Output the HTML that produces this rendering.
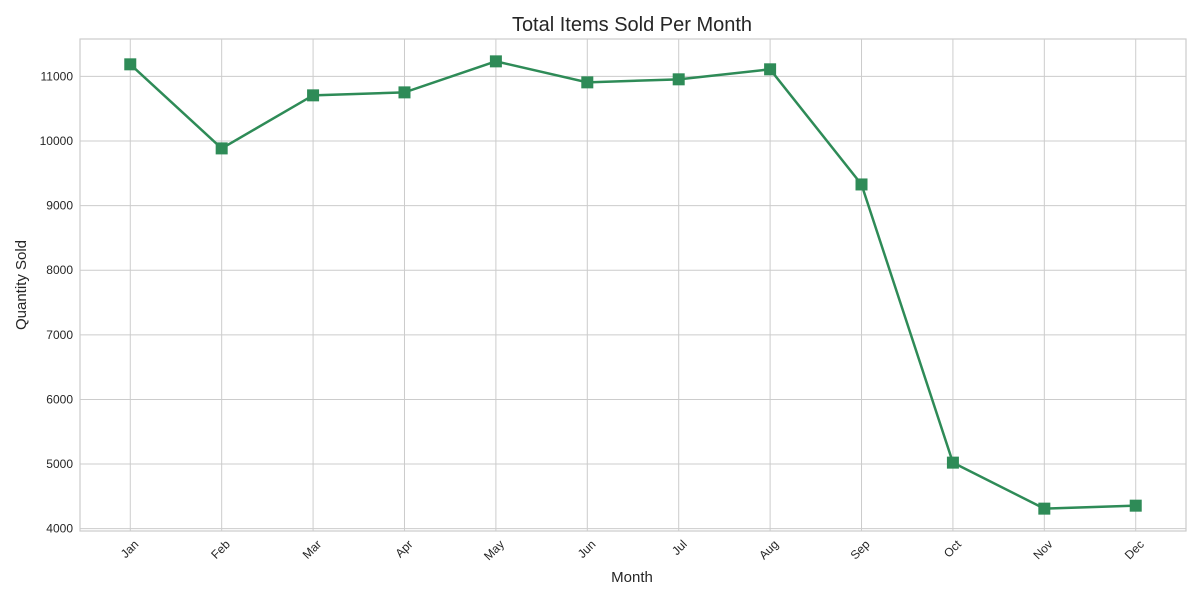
<!DOCTYPE html>
<html><head><meta charset="utf-8"><style>
body{margin:0;background:#fff;}
svg text{font-family:"Liberation Sans",Arial,sans-serif;fill:#262626;}
</style></head><body>
<svg id="chart" width="1200" height="600">
<text x="632" y="31" font-size="20" text-anchor="middle">Total Items Sold Per Month</text>
<text x="632" y="582" font-size="15" text-anchor="middle">Month</text>
<text x="26" y="285" font-size="15" text-anchor="middle" transform="rotate(-90 26 285)">Quantity Sold</text>
<g id="grid"></g><g id="plot"></g>
</svg>
<script>
const months=["Jan","Feb","Mar","Apr","May","Jun","Jul","Aug","Sep","Oct","Nov","Dec"];
const quantities=[11186,9885,10706,10752,11232,10907,10954,11109,9327,5022,4310,4356];
const yTicks=[4000,5000,6000,7000,8000,9000,10000,11000];
const L=80,R=1186,T=39,B=531;
const yMin=3964,yMax=11578,xMin=-0.55,xMax=11.55;
const xs=i=>L+(i-xMin)/(xMax-xMin)*(R-L);
const ys=v=>B-(v-yMin)/(yMax-yMin)*(B-T);
const NS="http://www.w3.org/2000/svg";
const g=document.getElementById('grid'),p=document.getElementById('plot');
function mk(t,a,par){const e=document.createElementNS(NS,t);for(const k in a)e.setAttribute(k,a[k]);par.appendChild(e);return e;}
yTicks.forEach(v=>{
 const y=ys(v);
 const l=mk('line',{x1:L,x2:R,y1:y,y2:y,stroke:'#cccccc','stroke-width':1},g);
 
 
 const t=mk('text',{x:L-7,y:y+4,'font-size':12,'text-anchor':'end'},g);t.textContent=v;
 
 
});
months.forEach((m,i)=>{
 const x=xs(i);
 const l=mk('line',{x1:x,x2:x,y1:T,y2:B,stroke:'#cccccc','stroke-width':1},g);
 
 
 const tx=x+9,ty=B+14;
 const t=mk('text',{x:tx,y:ty,'font-size':12,'text-anchor':'end',transform:`rotate(-45 ${tx} ${ty})`},g);t.textContent=m;
 
 
});
const fr=mk('rect',{x:L,y:T,width:R-L,height:B-T,fill:'none',stroke:'#cccccc','stroke-width':1.2},g);


const pl=mk('polyline',{points:quantities.map((v,i)=>xs(i)+','+ys(v)).join(' '),fill:'none',stroke:'#2e8b57','stroke-width':2.5},p);


quantities.forEach((v,i)=>{
 const r=mk('rect',{x:xs(i)-6,y:ys(v)-6,width:12,height:12,fill:'#2e8b57'},p);
 
 
});
</script>
</body></html>
